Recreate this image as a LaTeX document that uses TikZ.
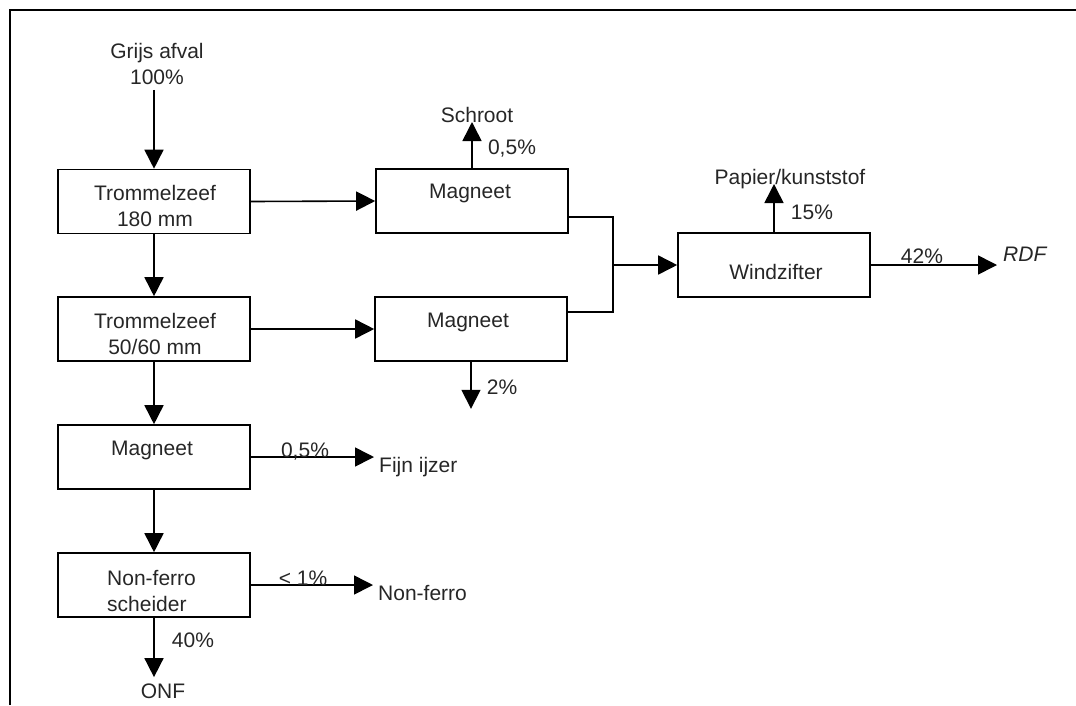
\documentclass[tikz,border=0pt]{standalone}
\usepackage{fontspec}
\setmainfont{Liberation Sans}
\usetikzlibrary{arrows.meta,calc}
\begin{document}
\begin{tikzpicture}[x=1pt,y=-1pt,
  every node/.style={font=\fontsize{21}{26}\selectfont, text=black!85, inner sep=0pt},
  box/.style={draw, line width=1.6pt, minimum width=192pt, minimum height=64pt},
  lbl/.style={anchor=base},
  flow/.style={line width=1.6pt, -{Triangle[length=19pt,width=19pt]}},
  link/.style={line width=1.6pt}]

\useasboundingbox (0,0) rectangle (1076,705);
% frame
\draw[line width=1.6pt] (10,705) -- (10,10) -- (1076,10);

% process steps
\node[box] (trom1) at (154,201.5) {};
\node[box] (trom2) at (154,329) {};
\node[box] (mag3)  at (154,457) {};
\node[box] (nfs)   at (154,585) {};
\node[box] (mag1)  at (472,201) {};
\node[box] (mag2)  at (471,329) {};
\node[box] (wind)  at (774,265) {};

\node[lbl, align=center] at ($(trom1.center)+(1,25)$) {Trommelzeef\\180 mm};
\node[lbl, align=center] at ($(trom2.center)+(1,25.5)$) {Trommelzeef\\50/60 mm};
\node[lbl] at ($(mag3.center)+(-2,-2)$) {Magneet};
\node[lbl] at ($(mag1.center)+(-2,-3)$) {Magneet};
\node[lbl] at ($(mag2.center)+(-3,-2)$) {Magneet};
\node[lbl] at ($(wind.center)+(2,14)$) {Windzifter};
\node[lbl, anchor=base west, align=left] at (107,611.5) {Non-ferro\\scheider};

% feed
\node[lbl, align=center] (grijs) at (157,84.5) {Grijs afval\\100\%};
\draw[flow, shorten <=5pt] (trom1.north |- grijs.south) -- (trom1.north);

% main line
\draw[flow] (trom1.south) -- (trom2.north);
\draw[flow] (trom2.south) -- (mag3.north);
\draw[flow] (mag3.south) -- (nfs.north);
\draw[flow] (trom1.east) -- (mag1.west);
\draw[flow] (trom2.east) -- (mag2.west);

% scrap
\node[lbl] (schroot) at (477,122) {Schroot};
\draw[flow] (mag1.north) -- (mag1.north |- schroot.base);
\node[lbl] at (512,154.5) {0,5\%};

% magnet 2 output
\coordinate (out2) at ($(mag2.south)+(0,47)$);
\draw[flow] (mag2.south) -- (out2);
\node[lbl] at (502,394.5) {2\%};

% merge into air classifier
\coordinate (merge) at ($(wind.west)+(-64,0)$);
\draw[link] ($(mag1.east)+(0,16)$) -| (merge);
\draw[link] ($(mag2.east)+(0,-17)$) -| (merge);
\draw[flow] (merge) -- (wind.west);

% paper / plastics
\node[lbl] (pap) at (790,184) {Papier/kunststof};
\draw[flow] (wind.north) -- (wind.north |- pap.base);
\node[lbl] at (812,219.5) {15\%};

% RDF
\node[lbl, anchor=base west, font=\fontsize{21}{26}\selectfont\itshape] (rdf) at (1003,261.7) {RDF};
\draw[flow, shorten >=6pt] (wind.east) -- (wind.east -| rdf.west);
\node[lbl] at (922,263.5) {42\%};

% fine iron
\node[lbl, anchor=base west] (fijn) at (379,472) {Fijn ijzer};
\draw[flow, shorten >=5pt] (mag3.east) -- (mag3.east -| fijn.west);
\node[lbl] at (305,457) {0,5\%};

% non-ferrous
\node[lbl, anchor=base west] (nonf) at (378,600) {Non-ferro};
\draw[flow, shorten >=5pt] (nfs.east) -- (nfs.east -| nonf.west);
\node[lbl] at (303,585) {< 1\%};

% residue
\node[lbl] (onf) at (163,698) {ONF};
\draw[flow, shorten >=6pt] (nfs.south) -- (nfs.south |- onf.north);
\node[lbl] at (193,647.5) {40\%};

\end{tikzpicture}
\end{document}
